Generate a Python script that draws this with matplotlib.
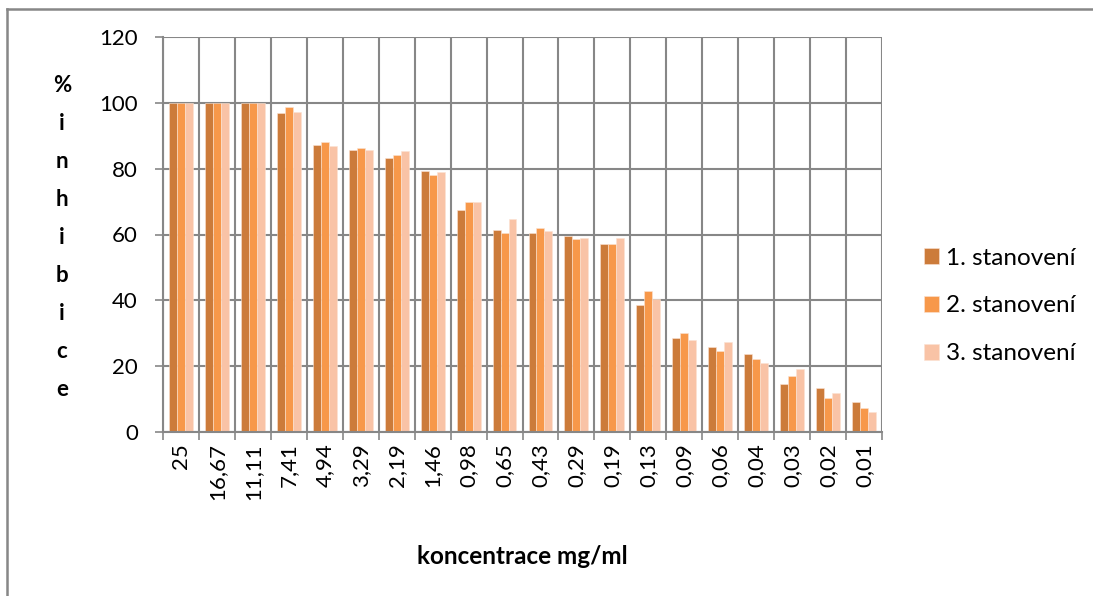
import matplotlib.pyplot as plt
import numpy as np
from matplotlib.lines import Line2D

# concentration series (mg/ml) and % inhibition for three repeated assays
koncentrace = ["25", "16,67", "11,11", "7,41", "4,94", "3,29", "2,19", "1,46",
               "0,98", "0,65", "0,43", "0,29", "0,19", "0,13", "0,09", "0,06",
               "0,04", "0,03", "0,02", "0,01"]
stanoveni_1 = [100, 100, 100, 96.8, 87.2, 85.8, 83.2, 79.3, 67.4, 61.5,
               60.4, 59.5, 57.2, 38.7, 28.6, 25.8, 23.7, 14.5, 13.3, 9.2]
stanoveni_2 = [100, 100, 100, 98.7, 88.0, 86.2, 84.1, 78.2, 69.9, 60.5,
               62.1, 58.5, 57.0, 42.8, 30.2, 24.5, 22.1, 17.0, 10.2, 7.3]
stanoveni_3 = [100, 100, 100, 97.2, 86.8, 85.8, 85.3, 79.0, 69.9, 64.6,
               61.1, 58.9, 58.9, 40.3, 28.0, 27.2, 21.1, 19.2, 12.0, 6.2]
serie_labels = ["1. stanovení", "2. stanovení", "3. stanovení"]
barvy = ["#CC7B3A", "#F7984A", "#F9C3A6"]

plt.rcParams['font.family'] = ['Lato', 'DejaVu Sans']
grid_col = "#878787"

fig = plt.figure(figsize=(10.93, 5.96), dpi=100)
ax = fig.add_axes([163 / 1093, 1 - 432 / 596, 719 / 1093, 395 / 596])

x = np.arange(len(koncentrace))
w = 0.222
for i, (vals, lab, col) in enumerate(zip([stanoveni_1, stanoveni_2, stanoveni_3],
                                         serie_labels, barvy)):
    ax.bar(x + (i - 1) * w, vals, width=w, color=col, label=lab,
           edgecolor="#FBE3D3", linewidth=0.4, zorder=3)

ax.set_xlim(-0.5, len(koncentrace) - 0.5)
ax.set_ylim(0, 120)
ax.set_yticks(range(0, 121, 20))
ax.tick_params(axis='y', labelsize=16, length=6, width=1.2, color=grid_col,
               direction='out', pad=12)

# category labels at centres, tick marks and grid at category boundaries
ax.set_xticks(x)
ax.set_xticklabels(koncentrace, rotation=90, fontsize=16)
ax.tick_params(axis='x', length=0, pad=8)
bounds = np.arange(-0.5, len(koncentrace), 1.0)
ax.set_xticks(bounds, minor=True)
ax.tick_params(axis='x', which='minor', length=6, width=1.2, color=grid_col,
               direction='out')
for b in bounds:
    ax.axvline(b, color=grid_col, linewidth=1.5, zorder=1)
ax.yaxis.grid(True, color=grid_col, linewidth=1.5, zorder=1)
ax.set_axisbelow(True)

for side in ['top', 'right']:
    ax.spines[side].set_visible(False)
for side in ['left', 'bottom']:
    ax.spines[side].set_color(grid_col)
    ax.spines[side].set_linewidth(1.5)
    ax.spines[side].set_zorder(4)

fig.text(522 / 1093, 1 - 556 / 596, "koncentrace mg/ml", fontsize=17.5,
         fontweight='bold', ha='center', va='center')
fig.text(62 / 1093, 1 - 238 / 596, "%\ni\nn\nh\ni\nb\ni\nc\ne", fontsize=16,
         fontweight='bold', ha='center', va='center', linespacing=2.0)

ax.legend(loc='center left', bbox_to_anchor=(914 / 1093, 1 - 306 / 596),
          bbox_transform=fig.transFigure, frameon=False, fontsize=17.5,
          handlelength=0.62, handleheight=0.62, handletextpad=0.3,
          labelspacing=1.1, borderaxespad=0)

# chart frame (top and left edges)
fig.add_artist(Line2D([7 / 1093, 1], [1 - 8.5 / 596, 1 - 8.5 / 596],
                      transform=fig.transFigure, color=grid_col, linewidth=1.8))
fig.add_artist(Line2D([7 / 1093, 7 / 1093], [0, 1 - 8.5 / 596],
                      transform=fig.transFigure, color=grid_col, linewidth=1.8))

fig.savefig("out.png", dpi=100)
